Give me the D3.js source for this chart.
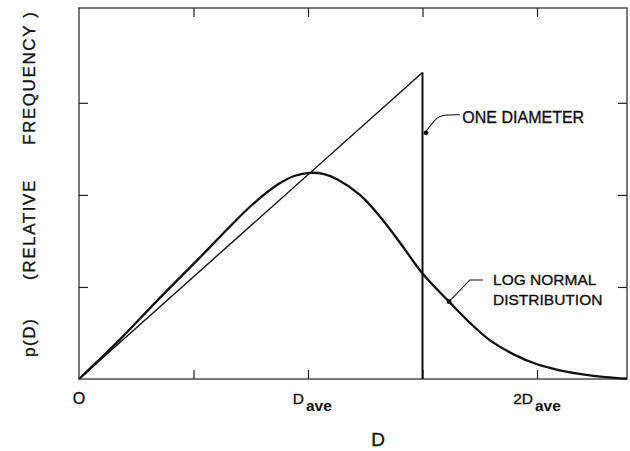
<!DOCTYPE html>
<html>
<head>
<meta charset="utf-8">
<script src="https://cdn.jsdelivr.net/npm/d3@7"></script>
<style>
  html, body { margin: 0; padding: 0; background: #fff; }
  svg { display: block; }
  text { font-family: "Liberation Sans", Arial, sans-serif; fill: #111; stroke: #111; stroke-width: 0.35px; }
</style>
</head>
<body>
<svg id="chart" width="630" height="451"></svg>
<script>
// ---- data (x in units of D_ave, y in relative frequency units) ----
const xDomain = [0, 2.393];
const yDomain = [0, 4.03];
const xTickValues = [0.5, 1, 1.5, 2];
const yTickValues = [1, 2, 3];
const xLabelValues = [0, 1, 2];
const xLabelMain = ["O", "D", "2D"];
const xLabelSub = ["", "ave", "ave"];

// "one diameter" distribution: linear rise then vertical drop at 1.5 D_ave
const oneDiamX = [0, 1.5, 1.5];
const oneDiamY = [0, 3.33, 0];

// log normal distribution curve
const logNormX = [0, 0.175, 0.349, 0.524, 0.655, 0.755, 0.873, 0.94, 1.009, 1.07, 1.127, 1.227, 1.314, 1.402, 1.502, 1.616, 1.707, 1.795, 1.9, 2.0, 2.1, 2.2, 2.3, 2.393];
const logNormY = [0, 0.42, 0.87, 1.31, 1.645, 1.89, 2.12, 2.205, 2.24, 2.225, 2.17, 2.0, 1.765, 1.48, 1.14, 0.84, 0.61, 0.42, 0.265, 0.16, 0.095, 0.05, 0.02, 0.003];

// annotations
const oneDiamLabel = "ONE DIAMETER";
const oneDiamLeaderX = [1.664, 1.590, 1.560, 1.511];
const oneDiamLeaderY = [2.87, 2.87, 2.84, 2.674];
const oneDiamTextPos = [1.674, 2.783];

const logNormLabel = ["LOG NORMAL", "DISTRIBUTION"];
const logNormLeaderX = [1.764, 1.707, 1.616];
const logNormLeaderY = [1.076, 1.076, 0.84];
const logNormTextPos = [1.808, 1.022, 0.804];

const xTitle = "D";
const yTitleParts = ["p(D)", "(RELATIVE", "FREQUENCY )"];

// ---- layout ----
const svg = d3.select("#chart");
const L = 79, R = 627, T = 8, B = 379;
const x = d3.scaleLinear().domain(xDomain).range([L, R]);
const y = d3.scaleLinear().domain(yDomain).range([B, T]);
const ink = "#111";

// frame
svg.append("rect")
  .attr("x", L).attr("y", T).attr("width", R - L).attr("height", B - T)
  .attr("fill", "none").attr("stroke", "#222").attr("stroke-width", 1.2);

// inward ticks via axes
const tk = 9;
function styleAxis(g) {
  g.select(".domain").remove();
  g.selectAll("line").attr("stroke", "#222").attr("stroke-width", 1.2);
  g.selectAll("text").remove();
}
svg.append("g").attr("transform", `translate(0,${B})`)
  .call(d3.axisBottom(x).tickValues(xTickValues).tickSize(-tk)).call(styleAxis);
svg.append("g").attr("transform", `translate(0,${T})`)
  .call(d3.axisTop(x).tickValues(xTickValues).tickSize(-tk)).call(styleAxis);
svg.append("g").attr("transform", `translate(${L},0)`)
  .call(d3.axisLeft(y).tickValues(yTickValues).tickSize(-tk)).call(styleAxis);
svg.append("g").attr("transform", `translate(${R},0)`)
  .call(d3.axisRight(y).tickValues(yTickValues).tickSize(-tk)).call(styleAxis);

// x tick labels
xLabelValues.forEach((v, i) => {
  if (xLabelSub[i] === "") {
    svg.append("text").attr("x", x(v)).attr("y", 404)
      .attr("text-anchor", "middle").attr("font-size", 16).text(xLabelMain[i]);
  } else {
    svg.append("text").attr("x", x(v) - 4).attr("y", 404)
      .attr("text-anchor", "end").attr("font-size", 15.5).text(xLabelMain[i]);
    svg.append("text").attr("x", x(v) - 2).attr("y", 411)
      .attr("text-anchor", "start").attr("font-size", 15.5)
      .attr("font-weight", "bold").style("stroke-width", "0px").text(xLabelSub[i]);
  }
});

// axis titles
svg.append("text").attr("x", 378).attr("y", 446).attr("text-anchor", "middle")
  .attr("font-size", 19).text(xTitle);

const yTitleStarts = [357, 280, 145];
yTitleParts.forEach((t, i) => {
  svg.append("text")
    .attr("transform", `translate(35,${yTitleStarts[i]}) rotate(-90)`)
    .attr("font-size", 17).attr("letter-spacing", 1.6)
    .text(t);
});

// one-diameter distribution
const line = d3.line().x(d => x(d[0])).y(d => y(d[1]));
svg.append("path")
  .datum([[oneDiamX[0], oneDiamY[0]], [oneDiamX[1], oneDiamY[1]]])
  .attr("d", line).attr("fill", "none").attr("stroke", ink).attr("stroke-width", 1.4);
svg.append("path")
  .datum([[oneDiamX[1], oneDiamY[1]], [oneDiamX[2], oneDiamY[2]]])
  .attr("d", line).attr("fill", "none").attr("stroke", ink).attr("stroke-width", 2);

// log-normal curve
const curve = d3.line().x(d => x(d[0])).y(d => y(d[1])).curve(d3.curveCatmullRom.alpha(0.5));
svg.append("path")
  .datum(logNormX.map((v, i) => [v, logNormY[i]]))
  .attr("d", curve).attr("fill", "none").attr("stroke", ink)
  .attr("stroke-width", 2.3).attr("stroke-linejoin", "round");

// annotations
const leader = d3.line().x(d => x(d[0])).y(d => y(d[1])).curve(d3.curveBasis);
svg.append("path")
  .datum(oneDiamLeaderX.map((v, i) => [v, oneDiamLeaderY[i]]))
  .attr("d", leader).attr("fill", "none").attr("stroke", ink).attr("stroke-width", 1.1);
svg.append("circle")
  .attr("cx", x(oneDiamLeaderX[3]) + 1).attr("cy", y(oneDiamLeaderY[3]))
  .attr("r", 2.4).attr("fill", ink);
svg.append("text").attr("x", x(oneDiamTextPos[0])).attr("y", y(oneDiamTextPos[1]))
  .attr("font-size", 16).text(oneDiamLabel);

svg.append("path")
  .datum(logNormLeaderX.map((v, i) => [v, logNormLeaderY[i]]))
  .attr("d", line).attr("fill", "none").attr("stroke", ink).attr("stroke-width", 1.1);
svg.append("circle")
  .attr("cx", x(logNormLeaderX[2])).attr("cy", y(logNormLeaderY[2]))
  .attr("r", 2.4).attr("fill", ink);
logNormLabel.forEach((t, i) => {
  svg.append("text").attr("x", x(logNormTextPos[0])).attr("y", y(logNormTextPos[i + 1]))
    .attr("font-size", 15.5).text(t);
});
</script>
</body>
</html>
